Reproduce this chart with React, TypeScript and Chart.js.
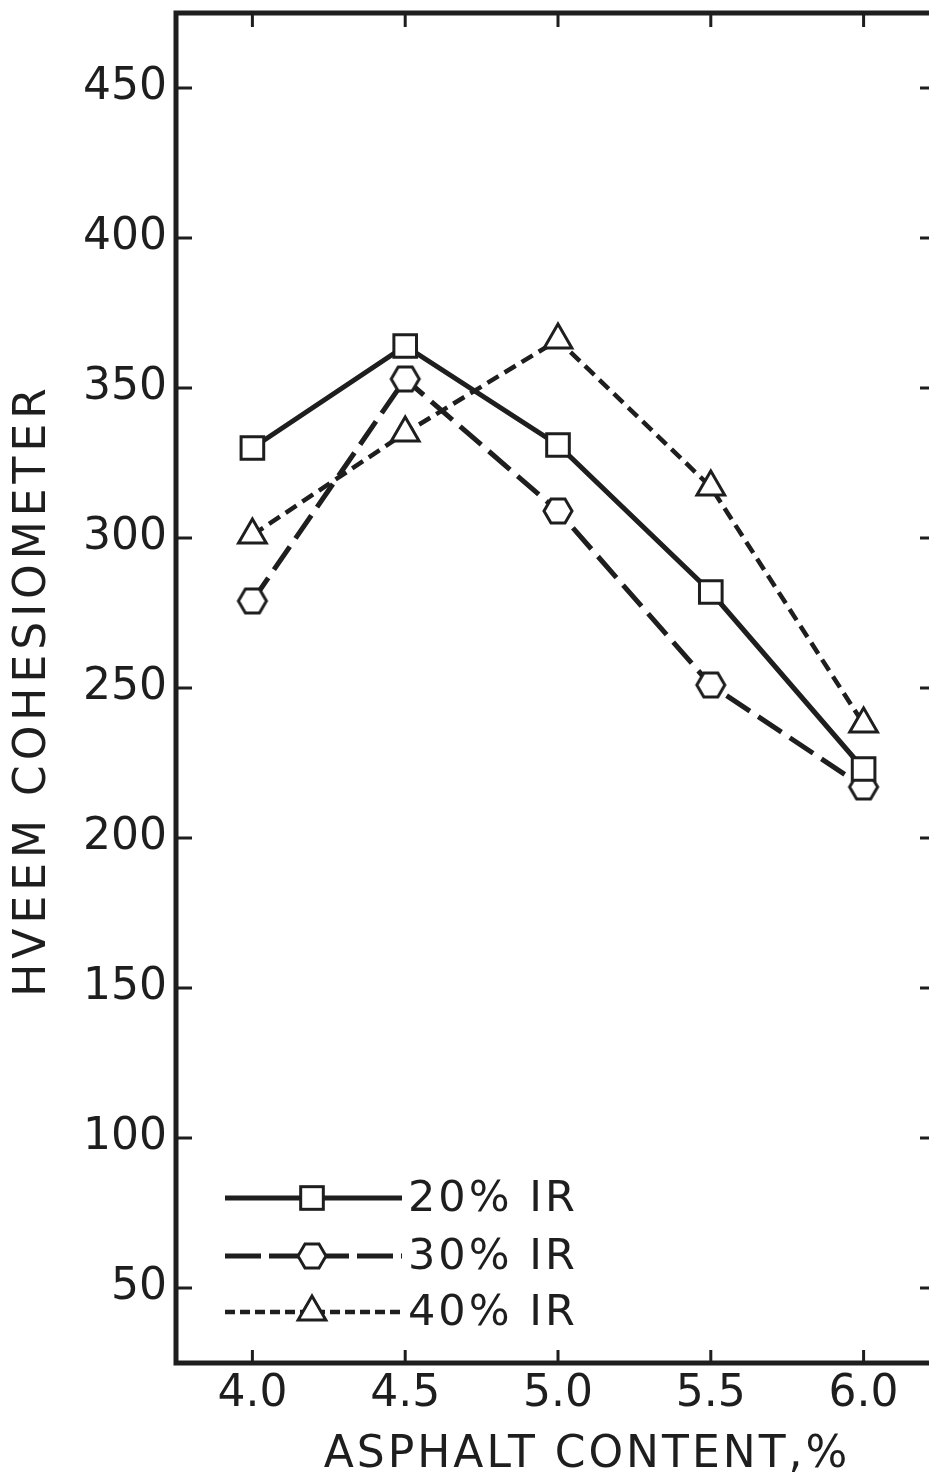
import { useEffect, useRef } from "react";
import { Chart, registerables } from "chart.js";

Chart.register(...registerables);

// Asphalt content (%) on the x axis
const asphaltContent = [4.0, 4.5, 5.0, 5.5, 6.0];

// Hveem cohesiometer values per IR level
const ir20 = [330, 364, 331, 282, 223];
const ir30 = [279, 353, 309, 251, 217];
const ir40 = [301, 335, 366, 317, 238];

const seriesLabels = ["20% IR", "30% IR", "40% IR"];

const xTicks = [4.0, 4.5, 5.0, 5.5, 6.0];
const yTicks = [50, 100, 150, 200, 250, 300, 350, 400, 450];

const xTitle = "ASPHALT CONTENT,%";
const yTitle = "HVEEM COHESIOMETER";

const INK = "#1e1e1e";
const FONT = "'DejaVu Sans', sans-serif";

function hexagonMarker(w: number, h: number, lw: number): HTMLCanvasElement {
  const c = document.createElement("canvas");
  c.width = Math.ceil(w + lw * 2);
  c.height = Math.ceil(h + lw * 2);
  const ctx = c.getContext("2d")!;
  const cx = c.width / 2;
  const cy = c.height / 2;
  ctx.beginPath();
  ctx.moveTo(cx - w / 2, cy);
  ctx.lineTo(cx - w / 4, cy - h / 2);
  ctx.lineTo(cx + w / 4, cy - h / 2);
  ctx.lineTo(cx + w / 2, cy);
  ctx.lineTo(cx + w / 4, cy + h / 2);
  ctx.lineTo(cx - w / 4, cy + h / 2);
  ctx.closePath();
  ctx.fillStyle = "#fff";
  ctx.fill();
  ctx.lineWidth = lw;
  ctx.strokeStyle = INK;
  ctx.stroke();
  return c;
}

function toPoints(values: number[]) {
  return asphaltContent.map((x, i) => ({ x, y: values[i] }));
}

function noEdgePadding(scale: any) {
  scale.paddingTop = 0;
  scale.paddingBottom = 0;
  scale.paddingLeft = 0;
  scale.paddingRight = 0;
}

// Frame, inward ticks, axis titles and the in-plot legend
const framePlugin = {
  id: "frame",
  afterDraw(chart: any) {
    const { ctx, chartArea } = chart;
    const { left, right, top, bottom } = chartArea;
    const xs = chart.scales.x;
    const ys = chart.scales.y;
    ctx.save();
    ctx.strokeStyle = INK;
    ctx.lineCap = "square";
    ctx.lineWidth = 5;
    ctx.setLineDash([]);
    ctx.strokeRect(left, top, right - left, bottom - top);

    ctx.lineCap = "butt";
    ctx.lineWidth = 3;
    for (const v of xTicks) {
      const px = xs.getPixelForValue(v);
      ctx.beginPath();
      ctx.moveTo(px, bottom);
      ctx.lineTo(px, bottom - 13);
      ctx.moveTo(px, top);
      ctx.lineTo(px, top + 14);
      ctx.stroke();
    }
    for (const v of yTicks) {
      const py = ys.getPixelForValue(v);
      ctx.beginPath();
      ctx.moveTo(left, py);
      ctx.lineTo(left + 16, py);
      ctx.moveTo(right, py);
      ctx.lineTo(right - 20, py);
      ctx.stroke();
    }

    // axis titles
    ctx.fillStyle = INK;
    ctx.font = `44px ${FONT}`;
    ctx.textAlign = "center";
    ctx.textBaseline = "middle";
    ctx.letterSpacing = "3px";
    ctx.fillText(xTitle, 587, 1456);

    ctx.save();
    ctx.translate(34, (top + bottom) / 2 + 2);
    ctx.rotate(-Math.PI / 2);
    ctx.letterSpacing = "5px";
    ctx.fillText(yTitle, 0, 0);
    ctx.restore();

    // legend
    const rows = [1198, 1256, 1312];
    const x0 = 225;
    const x1 = 402;
    const mx = 312;
    chart.data.datasets.forEach((ds: any, i: number) => {
      const y = rows[i];
      ctx.strokeStyle = INK;
      ctx.lineWidth = ds.borderWidth;
      ctx.setLineDash(ds.legendDash || ds.borderDash || []);
      ctx.beginPath();
      ctx.moveTo(x0, y);
      ctx.lineTo(x1, y);
      ctx.stroke();
      ctx.setLineDash([]);
      ctx.lineWidth = ds.pointBorderWidth;
      ctx.fillStyle = "#fff";
      const style = ds.pointStyle;
      if (style === "rect") {
        const s = ds.pointRadius * Math.SQRT1_2;
        ctx.fillRect(mx - s, y - s, 2 * s, 2 * s);
        ctx.strokeRect(mx - s, y - s, 2 * s, 2 * s);
      } else if (style === "triangle") {
        const r = ds.pointRadius;
        ctx.beginPath();
        ctx.moveTo(mx, y - r);
        ctx.lineTo(mx + r * Math.sin(Math.PI / 3), y + r / 2);
        ctx.lineTo(mx - r * Math.sin(Math.PI / 3), y + r / 2);
        ctx.closePath();
        ctx.fill();
        ctx.stroke();
      } else if (style instanceof HTMLCanvasElement) {
        ctx.drawImage(style, mx - style.width / 2, y - style.height / 2);
      }
      ctx.fillStyle = INK;
      ctx.font = `43px ${FONT}`;
      ctx.textAlign = "left";
      ctx.textBaseline = "middle";
      ctx.letterSpacing = "3px";
      ctx.fillText(ds.label, 408, y + 2);
    });
    ctx.restore();
  },
};

export default function App() {
  const canvasRef = useRef<HTMLCanvasElement | null>(null);

  useEffect(() => {
    const canvas = canvasRef.current;
    if (!canvas) return;
    const hex = hexagonMarker(28, 24, 3);

    const chart = new Chart(canvas, {
      type: "line",
      data: {
        datasets: [
          {
            label: seriesLabels[0],
            data: toPoints(ir20),
            borderColor: INK,
            borderWidth: 5,
            pointStyle: "rect",
            pointRadius: 16,
            pointBorderWidth: 3,
            pointBackgroundColor: "#fff",
            pointBorderColor: INK,
          },
          {
            label: seriesLabels[1],
            data: toPoints(ir30),
            borderColor: INK,
            borderWidth: 5,
            borderDash: [28, 10],
            legendDash: [36, 8],
            pointStyle: hex,
            pointRadius: 14,
            pointBorderWidth: 3,
            pointBackgroundColor: "#fff",
            pointBorderColor: INK,
          } as any,
          {
            label: seriesLabels[2],
            data: toPoints(ir40),
            borderColor: INK,
            borderWidth: 4.5,
            borderDash: [13, 7],
            legendDash: [10, 5],
            pointStyle: "triangle",
            pointRadius: 16,
            pointBorderWidth: 3,
            pointBackgroundColor: "#fff",
            pointBorderColor: INK,
          } as any,
        ],
      },
      options: {
        animation: false,
        responsive: false,
        devicePixelRatio: 1,
        layout: { autoPadding: false, padding: { top: 13, right: 20, left: 0, bottom: 0 } },
        plugins: {
          legend: { display: false },
          tooltip: { enabled: false },
        },
        scales: {
          x: {
            type: "linear",
            min: 3.75,
            max: 6.25,
            afterBuildTicks: (scale: any) => {
              scale.ticks = xTicks.map((value) => ({ value }));
            },
            afterFit: (scale: any) => {
              scale.height = 117;
              noEdgePadding(scale);
            },
            grid: { display: false, drawTicks: false },
            border: { display: false },
            ticks: {
              color: INK,
              font: { family: FONT, size: 44 },
              padding: 5,
              maxRotation: 0,
              callback: (v: any) => Number(v).toFixed(1),
            },
          },
          y: {
            type: "linear",
            min: 25,
            max: 475,
            afterBuildTicks: (scale: any) => {
              scale.ticks = yTicks.map((value) => ({ value }));
            },
            afterFit: (scale: any) => {
              scale.width = 176;
              noEdgePadding(scale);
            },
            grid: { display: false, drawTicks: false },
            border: { display: false },
            ticks: {
              color: INK,
              font: { family: FONT, size: 44 },
              padding: 9,
            },
          },
        },
      },
      plugins: [framePlugin],
    });

    return () => chart.destroy();
  }, []);

  return (
    <div
      style={{
        position: "absolute",
        left: 0,
        top: 0,
        width: 929,
        height: 1480,
        overflow: "hidden",
        background: "#fff",
      }}
    >
      <canvas ref={canvasRef} width={960} height={1480} style={{ display: "block" }} />
    </div>
  );
}
